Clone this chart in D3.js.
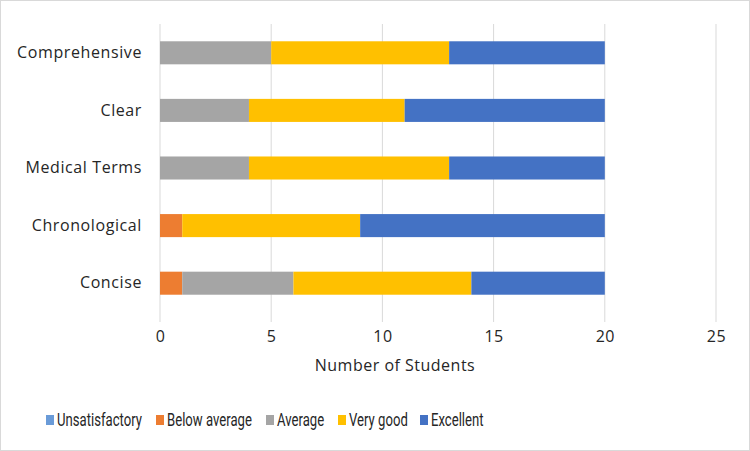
<!DOCTYPE html>
<html>
<head>
<meta charset="utf-8">
<script src="https://cdn.jsdelivr.net/npm/d3@7"></script>
<style>
  body { margin: 0; background: #fff; }
  svg { display: block; font-family: "Open Sans", Roboto, sans-serif; }
</style>
</head>
<body>
<div class="container"></div>
<script>
"use strict";

var width = 750;
var height = 451;

// Data
var categories = ["Comprehensive", "Clear", "Medical Terms", "Chronological", "Concise"];
var seriesNames = ["Unsatisfactory", "Below average", "Average", "Very good", "Excellent"];
var unsatisfactory = [0, 0, 0, 0, 0];
var belowAverage = [0, 0, 0, 1, 1];
var average = [5, 4, 4, 0, 5];
var veryGood = [8, 7, 9, 8, 8];
var excellent = [7, 9, 7, 11, 6];
var xTicks = [0, 5, 10, 15, 20, 25];

var colors = ["#6a9bd8", "#ed7d31", "#a5a5a5", "#ffc000", "#4472c4"];

var rows = categories.map(function(c, i) {
    return {
        category: c,
        "Unsatisfactory": unsatisfactory[i],
        "Below average": belowAverage[i],
        "Average": average[i],
        "Very good": veryGood[i],
        "Excellent": excellent[i]
    };
});

var margin = {top: 24, right: 34, bottom: 139, left: 160};

var x = d3.scaleLinear()
    .domain([0, 25])
    .range([margin.left, 716]);

var y = d3.scaleBand()
    .domain(categories)
    .range([margin.top, height - margin.bottom])
    .paddingInner(0.6)
    .paddingOuter(0.3);

var color = d3.scaleOrdinal().domain(seriesNames).range(colors);

var stacked = d3.stack().keys(seriesNames)(rows);

var svg = d3.select(".container").append("svg")
    .attr("width", width)
    .attr("height", height);

// outer frame
svg.append("rect")
    .attr("x", 0.5).attr("y", 0.5)
    .attr("width", width - 1).attr("height", height - 1)
    .attr("fill", "#fff")
    .attr("stroke", "#d9d9d9");

// gridlines
svg.append("g")
    .selectAll("line")
    .data(xTicks)
    .enter().append("line")
    .attr("x1", function(d) { return x(d); })
    .attr("x2", function(d) { return x(d); })
    .attr("y1", margin.top)
    .attr("y2", height - margin.bottom + 10)
    .attr("stroke", "#d9d9d9")
    .attr("stroke-width", 1);

// bars
svg.append("g")
    .selectAll("g")
    .data(stacked)
    .enter().append("g")
    .attr("fill", function(d) { return color(d.key); })
    .selectAll("rect")
    .data(function(d) { return d; })
    .enter().append("rect")
    .attr("x", function(d) { return x(d[0]); })
    .attr("y", function(d) { return y(d.data.category); })
    .attr("width", function(d) { return x(d[1]) - x(d[0]); })
    .attr("height", y.bandwidth());

// x axis labels
var xAxis = svg.append("g")
    .attr("transform", "translate(0," + 337 + ")")
    .call(d3.axisBottom(x).tickValues(xTicks).tickSize(0).tickPadding(0));
xAxis.select(".domain").remove();
xAxis.selectAll("text")
    .attr("dy", "0.32em")
    .attr("font-size", 16)
    .attr("letter-spacing", 0.5)
    .attr("font-family", "Open Sans, sans-serif")
    .attr("fill", "#262626");

// y axis labels
var yAxis = svg.append("g")
    .attr("transform", "translate(" + 142 + ",0)")
    .call(d3.axisLeft(y).tickSize(0).tickPadding(0));
yAxis.select(".domain").remove();
yAxis.selectAll("text")
    .attr("font-size", 16)
    .attr("letter-spacing", 0.6)
    .attr("font-family", "Open Sans, sans-serif")
    .attr("fill", "#262626");

// axis title
svg.append("text")
    .attr("x", 395)
    .attr("y", 366)
    .attr("dy", "0.32em")
    .attr("text-anchor", "middle")
    .attr("font-size", 16)
    .attr("letter-spacing", 0.5)
    .attr("fill", "#262626")
    .text("Number of Students");

// legend
var legendX = [46, 156, 266, 338, 420];
var legend = svg.append("g")
    .selectAll("g")
    .data(seriesNames)
    .enter().append("g")
    .attr("transform", function(d, i) { return "translate(" + legendX[i] + ",420)"; });
legend.append("rect")
    .attr("x", 0).attr("y", -5)
    .attr("width", 8).attr("height", 10)
    .attr("fill", function(d) { return color(d); });
legend.append("text")
    .attr("transform", "translate(11,0) scale(0.71,1)")
    .attr("dy", "0.32em")
    .attr("font-size", 18.5)
    .attr("font-family", "Roboto, sans-serif")
    .attr("fill", "#262626")
    .text(function(d) { return d; });
</script>
</body>
</html>
